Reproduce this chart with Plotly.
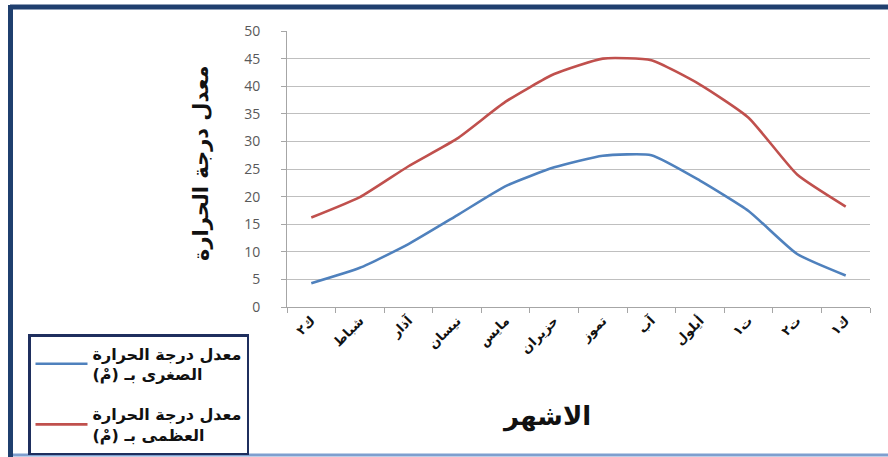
import plotly.graph_objects as go

# Monthly temperature averages (°C)
months = ["ك٢", "شباط", "آذار", "نيسان", "مايس", "حزيران",
          "تموز", "آب", "أيلول", "ت١", "ت٢", "ك١"]
min_temp = [4.3, 7.1, 11.4, 16.6, 21.9, 25.3, 27.4, 27.5, 22.9, 17.4, 9.6, 5.7]
max_temp = [16.2, 19.9, 25.5, 30.5, 37.2, 42.2, 45.0, 44.7, 40.3, 34.3, 24.0, 18.2]

series_names = [
    "<b>معدل درجة الحرارة<br>الصغرى بـ (مْ)</b>",
    "<b>معدل درجة الحرارة<br>العظمى بـ (مْ)</b>",
]
x_title = "<b>الاشهر</b>"
y_title = "<b>معدل درجة الحرارة</b>"
y_ticks = list(range(0, 55, 5))

W, H = 888, 457
L, R, T, B = 287, 18, 31, 150
PW, PH = W - L - R, H - T - B


def px_x(x):
    return (x - L) / PW


def px_y(y):
    return (H - B - y) / PH


AR = "DejaVu Sans"

fig = go.Figure()
fig.add_trace(go.Scatter(
    x=months, y=min_temp, mode="lines", name=series_names[0], legendgroup="min",
    line=dict(color="#4F81BD", width=2.6, shape="spline", smoothing=0.5),
))
fig.add_trace(go.Scatter(
    x=months, y=max_temp, mode="lines", name=series_names[1], legendgroup="max",
    line=dict(color="#C0504D", width=2.6, shape="spline", smoothing=0.5),
))

# outer frame of the chart
fig.add_shape(type="line", xref="paper", yref="paper",
              x0=px_x(10), x1=px_x(888), y0=px_y(7), y1=px_y(7),
              line=dict(color="#1F3F6E", width=5))
fig.add_shape(type="line", xref="paper", yref="paper",
              x0=px_x(10.5), x1=px_x(10.5), y0=px_y(5), y1=px_y(457),
              line=dict(color="#1F3F6E", width=5))
fig.add_shape(type="line", xref="paper", yref="paper",
              x0=px_x(13), x1=px_x(888), y0=px_y(455), y1=px_y(455),
              line=dict(color="#7F9FCF", width=3))

# axis titles
fig.add_annotation(xref="paper", yref="paper", x=px_x(546), y=px_y(416),
                   xanchor="center", yanchor="middle",
                   text=x_title, showarrow=False,
                   font=dict(family=AR, size=26, color="#111111"))
fig.add_annotation(xref="paper", yref="paper", x=px_x(201), y=px_y(163),
                   xanchor="center", yanchor="middle", textangle=-90,
                   text=y_title, showarrow=False,
                   font=dict(family=AR, size=21, color="#111111"))

fig.update_layout(
    width=W, height=H,
    margin=dict(l=L, r=R, t=T, b=B, pad=0, autoexpand=False),
    paper_bgcolor="white", plot_bgcolor="white",
    showlegend=True,
    legend=dict(
        xref="container", yref="container",
        x=28 / W, y=1 - 334 / H, xanchor="left", yanchor="top",
        bordercolor="#1F2F5E", borderwidth=2.5, bgcolor="white",
        font=dict(family=AR, size=16, color="#111111"),
        traceorder="grouped", tracegroupgap=16, itemwidth=52,
    ),
    xaxis=dict(
        type="category", tickangle=-45,
        tickfont=dict(family=AR, size=13, color="#111111", weight="bold"),
        showline=True, linecolor="#A6A6A6", linewidth=1,
        ticks="outside", ticklen=5, tickcolor="#A6A6A6",
        tickson="boundaries", showgrid=False,
        range=[-0.5, 11.5],
    ),
    yaxis=dict(
        range=[0, 50], tickvals=y_ticks, ticktext=[str(v) for v in y_ticks],
        tickfont=dict(family="Open Sans", size=14, color="#595959"),
        ticklabelstandoff=18,
        showline=True, linecolor="#A6A6A6", linewidth=1,
        ticks="outside", ticklen=5, tickcolor="#A6A6A6",
        showgrid=True, gridcolor="#BFBFBF", gridwidth=1,
        zeroline=False,
    ),
)

fig.write_html("out.html")
